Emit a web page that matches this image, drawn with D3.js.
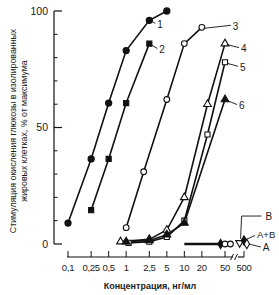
<!DOCTYPE html>
<html lang="ru">
<head>
<meta charset="UTF-8">
<title>Стимуляция окисления глюкозы</title>
<script src="https://d3js.org/d3.v7.min.js"></script>
<style>
  body { margin: 0; padding: 0; background: #fff; overflow: hidden; }
  svg text { font-family: "Liberation Sans", Arial, sans-serif; fill: #1a1a1a; }
</style>
</head>
<body>
<svg id="chart" width="279" height="295"></svg>
<script>
// Data (concentration ng/ml, % of maximum)
const xTickVals = [0.1, 0.25, 0.5, 1, 2.5, 5, 10, 20, 50];
const xTickLabels = ["0,1", "0,25", "0,5", "1", "2,5", "5", "10", "20", "50"];
const yMajor = [0, 50, 100];
const yMinor = [10, 20, 30, 40, 60, 70, 80, 90];

const s1 = [[0.1, 9], [0.25, 36.5], [0.5, 60.5], [1, 83], [2.5, 96], [5, 100]];
const s2 = [[0.25, 14.5], [0.5, 36.5], [1, 60.5], [2.5, 86]];
const s3 = [[1, 7], [2, 31], [5, 62], [10, 86], [20, 93]];
const s4 = [[0.8, 1], [2.5, 2], [5, 6], [10, 20], [25, 60], [50, 86]];
const s5 = [[1.1, 0.5], [2.5, 1], [5, 3], [10, 10], [25, 47], [50, 78]];
const s6 = [[1, 1], [2.5, 1.5], [5, 4], [10, 9], [50, 62]];

// control / A / B points near zero
const ctrlLine = [[10, 0], [42, 0]];
const ctrlDots = [[42, 0, "diamondFilled"], [50, 0, "circleOpen"], [62, 0, "circleOpen"]];
const abDots = [[420, 0.5, "triDownOpen"], [500, 1.5, "diamondFilled"], [560, 0, "diamondOpen"]];

const svg = d3.select("#chart");

const x = d3.scaleLog().domain([0.1, 50]).range([68, 225]);
const xHi = d3.scaleLog().domain([500, 5000]).range([244, 302]);
const y = d3.scaleLinear().domain([0, 100]).range([244, 11]);

// y axis
const yAxisX = 54;
svg.append("line").attr("x1", yAxisX).attr("x2", yAxisX).attr("y1", y(100)).attr("y2", y(0))
  .attr("stroke", "#111").attr("stroke-width", 1.2);
svg.selectAll(".ymaj").data(yMajor).join("line")
  .attr("x1", yAxisX).attr("x2", yAxisX + 8).attr("y1", d => y(d)).attr("y2", d => y(d))
  .attr("stroke", "#111").attr("stroke-width", 1.2);
svg.selectAll(".ymin").data(yMinor).join("line")
  .attr("x1", yAxisX).attr("x2", yAxisX + 3.5).attr("y1", d => y(d)).attr("y2", d => y(d))
  .attr("stroke", "#111").attr("stroke-width", 1);
svg.selectAll(".ylab").data(yMajor).join("text")
  .attr("x", 48).attr("y", d => y(d) + 3.5).attr("text-anchor", "end")
  .attr("font-size", 10.5).text(d => d);

// x axis (separate baseline with a break before 500)
const axY = 257;
svg.append("line").attr("x1", x(0.1) - 1).attr("x2", x(50) + 8).attr("y1", axY).attr("y2", axY)
  .attr("stroke", "#111").attr("stroke-width", 1.2);
svg.append("line").attr("x1", x(50) + 13).attr("x2", xHi(500)).attr("y1", axY).attr("y2", axY)
  .attr("stroke", "#111").attr("stroke-width", 1.2);
[x(50) + 7, x(50) + 11].forEach(bx => {
  svg.append("line").attr("x1", bx - 1.5).attr("x2", bx + 1.5).attr("y1", axY + 3).attr("y2", axY - 3)
    .attr("stroke", "#111").attr("stroke-width", 1);
});
const allTicks = xTickVals.map((v, i) => ({ px: x(v), lab: xTickLabels[i] }));
allTicks.push({ px: xHi(500), lab: "500" });
svg.selectAll(".xt").data(allTicks).join("line")
  .attr("x1", d => d.px).attr("x2", d => d.px).attr("y1", axY).attr("y2", axY - 6)
  .attr("stroke", "#111").attr("stroke-width", 1);
svg.selectAll(".xl").data(allTicks).join("text")
  .attr("x", d => d.px).attr("y", 271).attr("text-anchor", "middle")
  .attr("font-size", 9.5).attr("letter-spacing", -0.3).text(d => d.lab);

// titles
svg.append("text").attr("x", 150).attr("y", 289).attr("text-anchor", "middle")
  .attr("font-size", 9).attr("font-weight", "bold").text("Концентрация, нг/мл");
const yt = svg.append("text").attr("transform", "translate(16,131) rotate(-90)")
  .attr("text-anchor", "middle").attr("font-size", 8.8);
yt.append("tspan").attr("x", 0).attr("dy", 0).text("Стимуляция окисления глюкозы в изолированных");
yt.append("tspan").attr("x", 0).attr("dy", 11).text("жировых клетках, % от максимума");

// lines
const line = d3.line().x(d => x(d[0])).y(d => y(d[1]));
const series = [
  { data: s1, mark: "circleFilled" },
  { data: s2, mark: "squareFilled" },
  { data: s3, mark: "circleOpen" },
  { data: s4, mark: "triOpen" },
  { data: s5, mark: "squareOpen" },
  { data: s6, mark: "triFilled" }
];
series.forEach(s => {
  svg.append("path").attr("d", line(s.data)).attr("fill", "none")
    .attr("stroke", "#111").attr("stroke-width", 1.6);
});
svg.append("path").attr("d", line(ctrlLine)).attr("fill", "none")
  .attr("stroke", "#111").attr("stroke-width", 2.6);

// markers
const shapes = {
  circleFilled: [d3.symbolCircle, 30, true],
  circleOpen: [d3.symbolCircle, 26, false],
  squareFilled: [d3.symbolSquare, 26, true],
  squareOpen: [d3.symbolSquare, 26, false],
  triOpen: [d3.symbolTriangle, 26, false],
  triFilled: [d3.symbolTriangle, 26, true],
  diamondFilled: [d3.symbolDiamond, 26, true],
  diamondOpen: [d3.symbolDiamond, 26, false],
  triDownOpen: [d3.symbolTriangle, 26, false]
};
function drawMark(px, py, kind) {
  const [type, size, filled] = shapes[kind];
  svg.append("path").attr("d", d3.symbol().type(type).size(size)())
    .attr("transform", `translate(${px},${py})` + (kind === "triDownOpen" ? " rotate(180)" : ""))
    .attr("fill", filled ? "#111" : "#fff").attr("stroke", "#111").attr("stroke-width", 1.1);
}
series.forEach(s => s.data.forEach(d => drawMark(x(d[0]), y(d[1]), s.mark)));
ctrlDots.forEach(d => drawMark(x(d[0]), y(d[1]), d[2]));
abDots.forEach(d => drawMark(xHi(d[0]), y(d[1]), d[2]));

// curve labels with leader lines
const curveLabels = [
  { name: "1", p: [2.5, 96], dx: 8, dy: 4 },
  { name: "2", p: [2.5, 86], dx: 10, dy: 6 },
  { name: "3", p: [20, 93], dx: 31, dy: -1 },
  { name: "4", p: [50, 86], dx: 16, dy: 5 },
  { name: "5", p: [50, 78], dx: 15, dy: 5 },
  { name: "6", p: [50, 62], dx: 14, dy: 6 }
];
curveLabels.forEach(l => {
  const px = x(l.p[0]), py = y(l.p[1]);
  svg.append("line").attr("x1", px + 2).attr("y1", py + 1).attr("x2", px + l.dx - 2).attr("y2", py + l.dy - 1)
    .attr("stroke", "#111").attr("stroke-width", 0.9);
  svg.append("text").attr("x", px + l.dx).attr("y", py + l.dy + 3.5).attr("font-size", 10).text(l.name);
});

// A / B / A+B labels
const pB = [xHi(420), y(0.5)], pAB = [xHi(500), y(1.5)], pA = [xHi(560), y(0)];
svg.append("polyline")
  .attr("points", `${pB[0] + 1},${pB[1] - 4} ${pB[0] + 2},${y(12)} ${pB[0] + 22},${y(12)}`)
  .attr("fill", "none").attr("stroke", "#111").attr("stroke-width", 0.9);
svg.append("text").attr("x", pB[0] + 26).attr("y", y(12) + 4).attr("font-size", 10).text("B");
svg.append("line").attr("x1", pAB[0] + 2).attr("y1", pAB[1] - 1).attr("x2", pAB[0] + 11).attr("y2", pAB[1] - 5)
  .attr("stroke", "#111").attr("stroke-width", 0.9);
svg.append("text").attr("x", pAB[0] + 13).attr("y", pAB[1] - 3).attr("font-size", 9.5).text("A+B");
svg.append("line").attr("x1", pA[0] + 2).attr("y1", pA[1]).attr("x2", pA[0] + 14).attr("y2", pA[1] + 3)
  .attr("stroke", "#111").attr("stroke-width", 0.9);
svg.append("text").attr("x", pA[0] + 16).attr("y", pA[1] + 7).attr("font-size", 10).text("A");
</script>
</body>
</html>
